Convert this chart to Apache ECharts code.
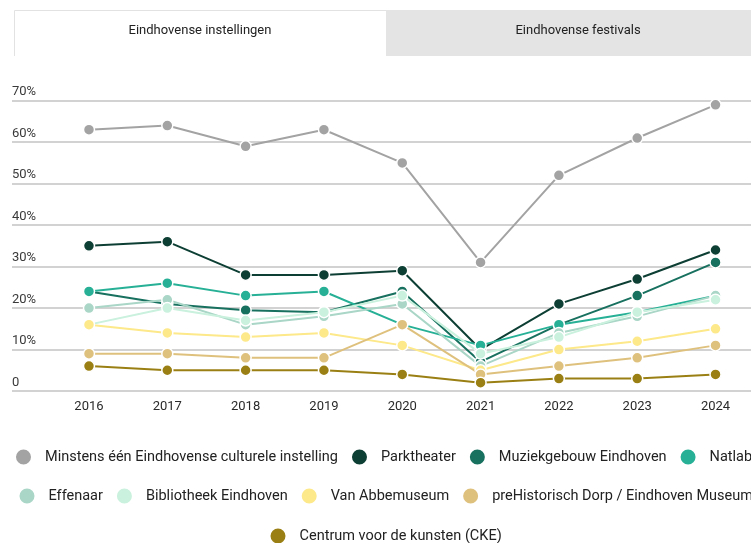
<!DOCTYPE html>
<html>
<head>
<meta charset="utf-8">
<script src="https://cdn.jsdelivr.net/npm/echarts@6/dist/echarts.min.js"></script>
<style>
  html, body { margin: 0; padding: 0; background: #fff; }
  #chart { width: 751px; height: 543px; }
</style>
</head>
<body>
<div id="chart"></div>
<script>
// jaren en percentages per instelling
const years = [2016, 2017, 2018, 2019, 2020, 2021, 2022, 2023, 2024];
const yTicks = [0, 10, 20, 30, 40, 50, 60, 70];

const minstens = [63, 64, 59, 63, 55, 31, 52, 61, 69];
const parktheater = [35, 36, 28, 28, 29, 10, 21, 27, 34];
const muziekgebouw = [24, 21, 19.5, 19, 24, 7, 16, 23, 31];
const natlab = [24, 26, 23, 24, 16, 11, 16, 19, 23];
const effenaar = [20, 22, 16, 18, 21, 6, 14, 18, 23];
const bibliotheek = [16, 20, 17, 19, 23, 9, 13, 19, 22];
const vanAbbe = [16, 14, 13, 14, 11, 5, 10, 12, 15];
const prehistorisch = [9, 9, 8, 8, 16, 4, 6, 8, 11];
const cke = [6, 5, 5, 5, 4, 2, 3, 3, 4];

const seriesNames = [
  'Minstens één Eindhovense culturele instelling',
  'Parktheater',
  'Muziekgebouw Eindhoven',
  'Natlab',
  'Effenaar',
  'Bibliotheek Eindhoven',
  'Van Abbemuseum',
  'preHistorisch Dorp / Eindhoven Museum',
  'Centrum voor de kunsten (CKE)'
];
const seriesValues = [minstens, parktheater, muziekgebouw, natlab, effenaar, bibliotheek, vanAbbe, prehistorisch, cke];
const colors = ['#a3a3a3', '#0e3f34', '#18705f', '#27b096', '#a9d6c6', '#c9f1dd', '#fde88a', '#dfc17e', '#9a8014'];

const font = 'Roboto, "Noto Sans", sans-serif';

const myChart = echarts.init(document.getElementById('chart'));

const legendBase = {
  icon: 'circle',
  itemWidth: 17,
  itemHeight: 17,
  itemGap: 12,
  orient: 'horizontal',
  width: 1500,
  selectedMode: false,
  textStyle: {
    fontFamily: font,
    fontSize: 14.5,
    color: '#222',
    padding: [0, 0, 0, 8]
  }
};

const option = {
  animation: false,
  color: colors,
  textStyle: { fontFamily: font },
  grid: {
    left: 12,
    right: 0,
    top: 100.7,
    bottom: 152
  },
  xAxis: {
    type: 'value',
    min: 2015.017,
    max: 2024.453,
    axisLine: { show: false },
    axisTick: { show: false },
    splitLine: { show: false },
    axisLabel: {
      customValues: years,
      formatter: v => String(v),
      color: '#2a2a2a',
      fontSize: 13,
      margin: 9
    }
  },
  yAxis: {
    type: 'value',
    min: 0,
    max: 70,
    interval: 10,
    axisLine: { show: false },
    axisTick: { show: false },
    splitLine: {
      lineStyle: { color: '#d2d2d2', width: 2 }
    },
    axisLabel: {
      inside: true,
      margin: 0,
      verticalAlign: 'bottom',
      padding: [0, 0, 2, 0],
      color: '#3a3a3a',
      fontSize: 13,
      formatter: v => (v === 0 ? '0' : v + '%')
    }
  },
  legend: [
    Object.assign({}, legendBase, { left: 9, top: 442.5, data: seriesNames.slice(0, 4) }),
    Object.assign({}, legendBase, { left: 12.5, top: 481.5, data: seriesNames.slice(4, 8) }),
    Object.assign({}, legendBase, { left: 263.5, top: 521.5, data: seriesNames.slice(8) })
  ],
  graphic: [
    {
      type: 'rect',
      shape: { x: 386, y: 10, width: 380, height: 46 },
      style: { fill: '#e4e4e4' }
    },
    {
      type: 'polyline',
      shape: { points: [[14.5, 56], [14.5, 10.5], [386, 10.5]] },
      style: { stroke: '#e2e2e2', lineWidth: 1, fill: null }
    },
    {
      type: 'text',
      x: 200,
      y: 31,
      style: {
        text: 'Eindhovense instellingen',
        font: '13px ' + font,
        fill: '#222',
        align: 'center',
        verticalAlign: 'middle'
      }
    },
    {
      type: 'text',
      x: 578,
      y: 31,
      style: {
        text: 'Eindhovense festivals',
        font: '13px ' + font,
        fill: '#222',
        align: 'center',
        verticalAlign: 'middle'
      }
    }
  ],
  series: seriesNames.map((name, i) => ({
    name: name,
    type: 'line',
    data: years.map((y, j) => [y, seriesValues[i][j]]),
    symbol: 'circle',
    symbolSize: 11,
    lineStyle: { width: 2, color: colors[i] },
    itemStyle: { color: colors[i], borderColor: '#fff', borderWidth: 1.5 }
  }))
};

myChart.setOption(option);
</script>
</body>
</html>
